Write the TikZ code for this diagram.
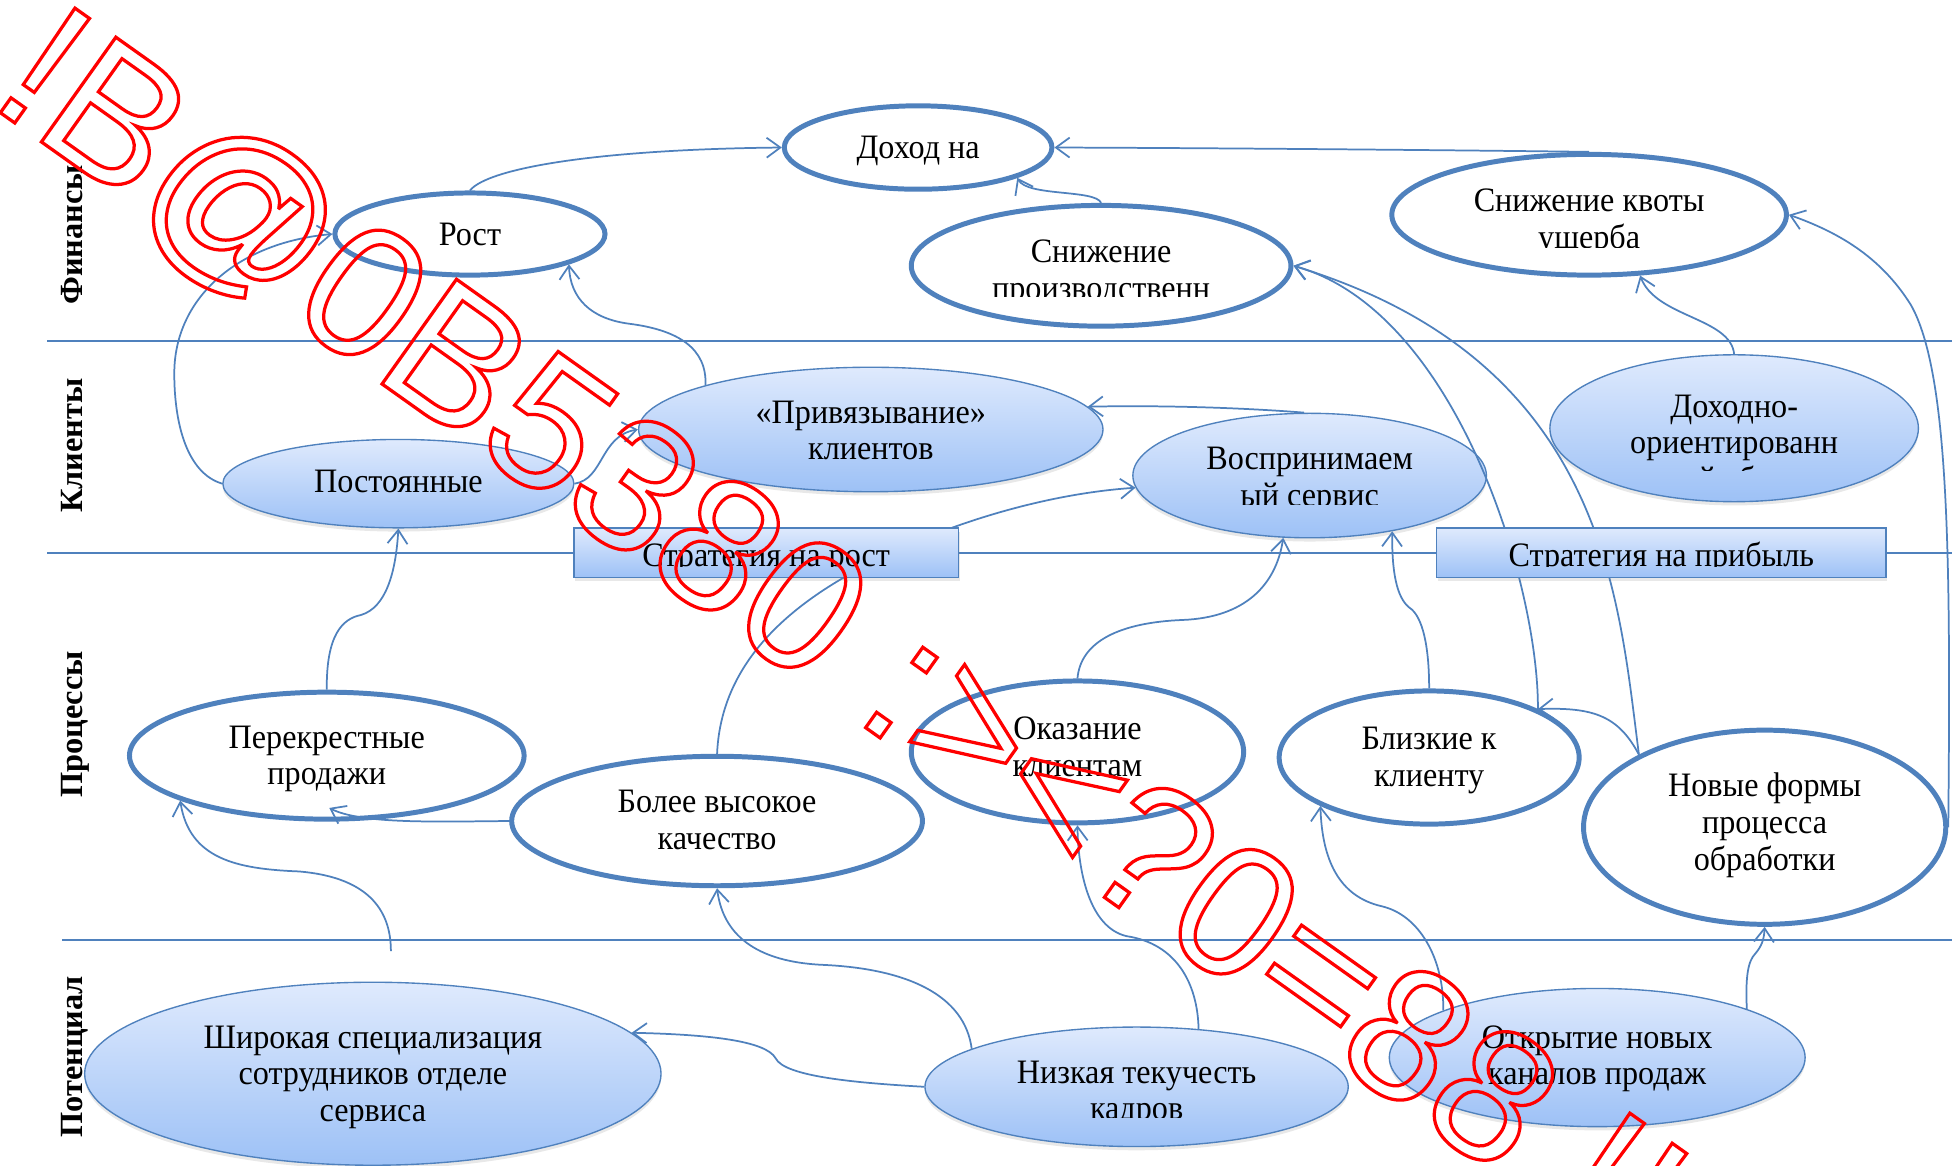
\documentclass[tikz,border=0pt]{standalone}
\usepackage{fontspec}
\setmainfont{Liberation Serif}
\newfontfamily\bodyfont{Liberation Serif}[FakeStretch=0.94]
\newfontfamily\lanefont{Liberation Serif}
\newfontfamily\stampfont{Liberation Sans}
\usetikzlibrary{arrows.meta,shadows,shapes.geometric}
\definecolor{edge}{RGB}{79,129,189}
\definecolor{gtop}{RGB}{223,234,253}
\definecolor{gbot}{RGB}{157,193,246}
\newcommand{\mlines}[1]{\begin{tabular}[t]{@{}c@{}}#1\end{tabular}}

\begin{document}
\begin{tikzpicture}[x=1pt,y=-1pt,
  proc/.style={ellipse, draw=edge, line width=4pt, fill=white, inner sep=0pt},
  soft/.style={ellipse, draw=edge, line width=1.1pt, top color=gtop, bottom color=gbot,
    inner sep=0pt, drop shadow={opacity=0.18, shadow xshift=0pt, shadow yshift=-3pt}},
  band/.style={rectangle, draw=edge, line width=1.1pt, top color=gtop, bottom color=gbot,
    inner sep=0pt, drop shadow={opacity=0.18, shadow xshift=1pt, shadow yshift=-3pt}},
  lbl/.style={font=\bodyfont\fontsize{27.5}{29.5}\selectfont, inner sep=0pt, anchor=base},
  lane/.style={font=\lanefont\bfseries\fontsize{26}{30}\selectfont, rotate=90, anchor=base, inner sep=0pt},
  sep/.style={draw=edge, line width=1.5pt},
  conn/.style={draw=edge, line width=1.4pt, -{Straight Barb[length=11pt,width=16pt]}},
  stamp/.style={font=\stampfont\fontsize{150}{150}\selectfont, text=red, inner sep=0pt}
]
\useasboundingbox (0,0) rectangle (1568,936);
\fill[white] (0,0) rectangle (1568,936);
\clip (0,0) rectangle (1568,936);

% lane separators
\draw[sep] (38,274) -- (1568,274);
\draw[sep] (38,444) -- (1568,444);
\draw[sep] (50,755) -- (1568,755);

% lane titles
\node[lane] (lane-fin) at (66,188.5) {Финансы};
\node[lane] (lane-cli) at (66,358) {Клиенты};
\node[lane] (lane-proc) at (66,582) {Процессы};
\node[lane] (lane-pot) at (66,849) {Потенциал};

% finance goals
\node[proc, minimum width=215pt, minimum height=67pt] (dohod) at (737.5,118.5) {};
\node[proc, minimum width=217pt, minimum height=66pt] (rost) at (377.5,188) {};
\node[proc, minimum width=305pt, minimum height=97pt] (snpr) at (884.5,213.5) {};
\node[proc, minimum width=317pt, minimum height=97pt] (snkv) at (1276.5,172.5) {};

% client goals
\node[soft, minimum width=282pt, minimum height=71pt] (postoy) at (320,388.5) {};
\node[soft, minimum width=373pt, minimum height=100pt] (privyaz) at (699.5,345) {};
\node[soft, minimum width=284pt, minimum height=100pt] (vospr) at (1052,382) {};
\node[soft, minimum width=296pt, minimum height=118pt] (dohodno) at (1393,344) {};

% process goals
\node[proc, minimum width=317pt, minimum height=102pt] (perek) at (262.5,607) {};
\node[proc, minimum width=330pt, minimum height=104pt] (bolee) at (576,659.5) {};
\node[proc, minimum width=267pt, minimum height=114pt] (okaz) at (865.5,604) {};
\node[proc, minimum width=241pt, minimum height=107pt] (blizk) at (1148,608.5) {};
\node[proc, minimum width=291pt, minimum height=156pt] (novye) at (1417.5,664.5) {};

% potential goals
\node[soft, minimum width=463pt, minimum height=147pt] (shirok) at (299.5,862.5) {};
\node[soft, minimum width=340pt, minimum height=96pt] (nizk) at (913,873) {};
\node[soft, minimum width=334pt, minimum height=111pt] (otkr) at (1283,849.5) {};

% cause-and-effect links
\draw[conn] (rost.north) .. controls (392,135) and (480,120) .. (dohod.west);
\draw[conn] (snpr.north) .. controls (880,152) and (825,158) .. (dohod.-17);
\draw[conn] (snkv.north) .. controls (1200,121) and (1000,119) .. (dohod.east);
\draw[conn] (dohodno.north) .. controls (1390,255) and (1330,255) .. (snkv.-50);
\draw[conn] (novye.east) .. controls (1567,450) and (1566,300) .. (1535,245)
  .. controls (1510,205) and (1475,186) .. (snkv.east);
\draw[conn] (blizk.24) .. controls (1236,470) and (1170,250) .. (snpr.east);
\draw[conn] (novye.150) .. controls (1300,480) and (1290,290) .. (snpr.east);
\draw[conn] (novye.150) .. controls (1300,575) and (1280,568) .. (blizk.24);
\draw[conn] (perek.north) .. controls (262,510) and (275,497) .. (290,494)
  .. controls (310,488) and (318,460) .. (postoy.south);
\draw[conn] (bolee.west) .. controls (350,660) and (290,662) .. ([xshift=2pt,yshift=11pt]perek.south);
\coordinate (shirok-in) at (314,764);
\draw[conn] (shirok-in) .. controls (314,735) and (300,705) .. (240,700)
  .. controls (190,698) and (152,690) .. (perek.-163);
\draw[conn] (nizk.west) .. controls (690,870) and (630,865) .. (623,850)
  .. controls (615,836) and (570,831) .. (shirok.9);
\draw[conn] (nizk.167) .. controls (775,800) and (730,778) .. (660,775)
  .. controls (600,772) and (580,745) .. (bolee.south);
\draw[conn] (nizk.43) .. controls (962,790) and (945,758) .. (905,752)
  .. controls (875,745) and (866,700) .. (okaz.south);
\draw[conn] (okaz.north) .. controls (868,515) and (900,500) .. (950,498)
  .. controls (1000,496) and (1025,470) .. (vospr.-113);
\draw[conn] (bolee.north) .. controls (578,560) and (600,515) .. (660,475)
  .. controls (720,435) and (820,398) .. (vospr.-176);
\draw[conn] (blizk.north) .. controls (1148,520) and (1143,495) .. (1132,488)
  .. controls (1122,480) and (1118,460) .. (vospr.-34);
\draw[conn] (otkr.163) .. controls (1160,770) and (1140,735) .. (1110,728)
  .. controls (1075,720) and (1062,690) .. (blizk.-156);
\draw[conn] (otkr.18) .. controls (1402,785) and (1404,772) .. (1410,766)
  .. controls (1415,760) and (1417,755) .. (novye.south);
\draw[conn] (postoy.west) .. controls (150,380) and (140,340) .. (140,300)
  .. controls (140,240) and (190,195) .. (rost.west);
\draw[conn] (postoy.east) .. controls (485,385) and (482,350) .. (privyaz.west);
\draw[conn] (privyaz.165) .. controls (568,280) and (545,265) .. (505,260)
  .. controls (475,256) and (458,240) .. (rost.-17);
\draw[conn] (vospr.95) .. controls (1030,330) and (960,325) .. (privyaz.6);

% strategy bars
\node[band, minimum width=309pt, minimum height=40pt] (strrost) at (615.5,444) {};
\node[band, minimum width=361pt, minimum height=40pt] (strprib) at (1334.5,444) {};

% labels
\node[lbl] (dohod-t) at (737.5,127) {Доход на};
\node[lbl] (rost-t) at (377.5,197) {Рост};
\begin{scope}
  \clip (720,150) rectangle (1050,238.5);
  \node[lbl] (snpr-t) at (884.5,211) {\mlines{Снижение\\производственн}};
\end{scope}
\begin{scope}
  \clip (1110,120) rectangle (1445,198.5);
  \node[lbl] (snkv-t) at (1276.5,170) {\mlines{Снижение квоты\\ущерба}};
\end{scope}
\node[lbl] (postoy-t) at (320,396) {Постоянные};
\node[lbl] (privyaz-t) at (699.5,340) {\mlines{«Привязывание»\\клиентов}};
\begin{scope}
  \clip (905,330) rectangle (1200,405.5);
  \node[lbl] (vospr-t) at (1052,377) {\mlines{Воспринимаем\\ый сервис}};
\end{scope}
\begin{scope}
  \clip (1240,283) rectangle (1545,378);
  \node[lbl] (dohodno-t) at (1393,335) {\mlines{Доходно-\\ориентированн\\ый сбыт}};
\end{scope}
\begin{scope}
  \clip (461,424) rectangle (770,455);
  \node[lbl] (strrost-t) at (615.5,455) {Стратегия на рост};
\end{scope}
\begin{scope}
  \clip (1154,424) rectangle (1515,455);
  \node[lbl] (strprib-t) at (1334.5,455) {Стратегия на прибыль};
\end{scope}
\node[lbl] (perek-t) at (262.5,601) {\mlines{Перекрестные\\продажи}};
\node[lbl] (bolee-t) at (576,653) {\mlines{Более высокое\\качество}};
\node[lbl] (okaz-t) at (865.5,594) {\mlines{Оказание\\клиентам}};
\node[lbl] (blizk-t) at (1148,602) {\mlines{Близкие к\\клиенту}};
\node[lbl] (novye-t) at (1417.5,640) {\mlines{Новые формы\\процесса\\обработки}};
\node[lbl] (shirok-t) at (299.5,842) {\mlines{Широкая специализация\\сотрудников отделе\\сервиса}};
\begin{scope}
  \clip (740,820) rectangle (1090,897.5);
  \node[lbl] (nizk-t) at (913,870) {\mlines{Низкая текучесть\\кадров}};
\end{scope}
\node[lbl] (otkr-t) at (1283,842) {\mlines{Открытие новых\\каналов продаж}};

% outlined stamp across the sheet
\node[stamp, rotate=-35.4, anchor=base west] (stamp) at (-10.9,82.6)
  {\special{pdf:literal direct 1 Tr 2.6 w 1 0 0 RG}!B@0B5380 :><?0=88 !!};
\end{tikzpicture}
\end{document}
